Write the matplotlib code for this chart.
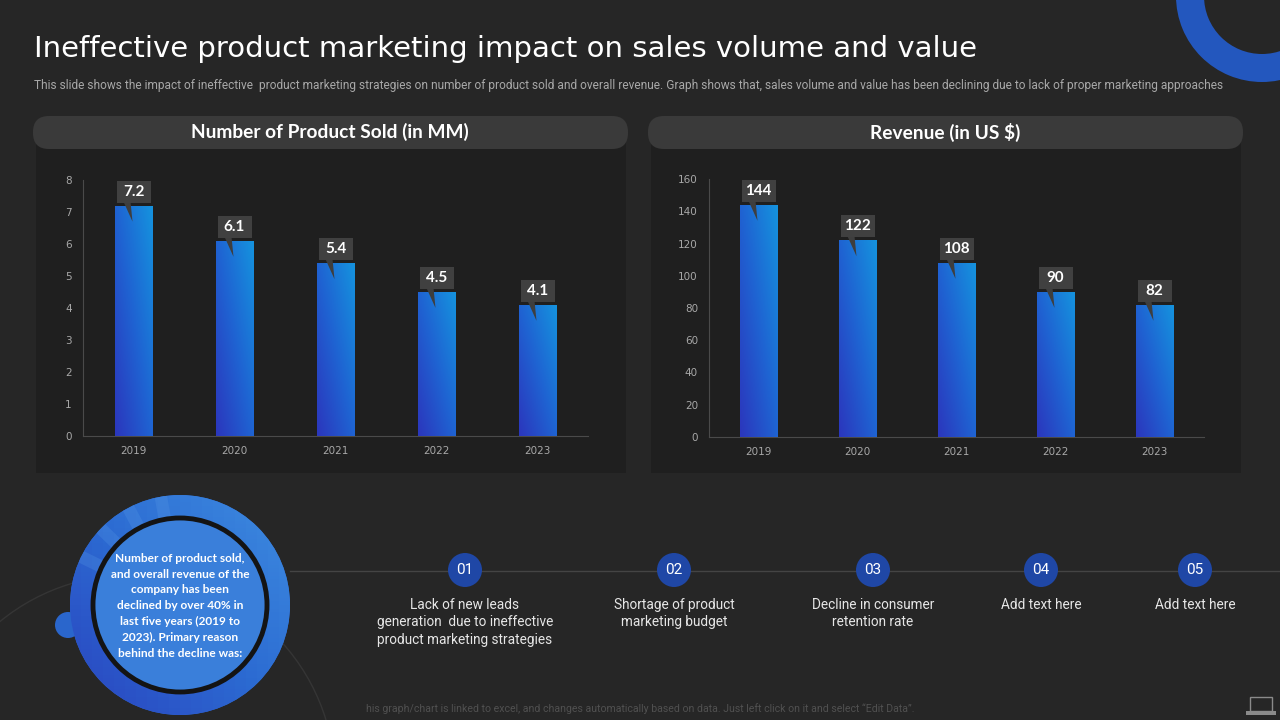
import numpy as np
import matplotlib
matplotlib.use("Agg")
import matplotlib.pyplot as plt
import matplotlib.transforms as mtransforms
from matplotlib.patches import FancyBboxPatch, Rectangle, Circle, Polygon, Wedge
from matplotlib.colors import LinearSegmentedColormap

# 数据
years = ['2019', '2020', '2021', '2022', '2023']
units_sold = [7.2, 6.1, 5.4, 4.5, 4.1]
revenue = [144, 122, 108, 90, 82]
units_ticks = [0, 1, 2, 3, 4, 5, 6, 7, 8]
revenue_ticks = [0, 20, 40, 60, 80, 100, 120, 140, 160]
units_labels = ['7.2', '6.1', '5.4', '4.5', '4.1']
revenue_labels = ['144', '122', '108', '90', '82']

title = 'Ineffective product marketing impact on sales volume and value'
subtitle = ('This slide shows the impact of ineffective  product marketing strategies on number of product sold '
            'and overall revenue. Graph shows that, sales volume and value has been declining due to lack of '
            'proper marketing approaches')
chart_titles = ['Number of Product Sold (in MM)', 'Revenue (in US $)']
circle_text = ('Number of product sold,\nand overall revenue of the\ncompany has been\n'
               'declined by over 40% in\nlast five years (2019 to\n2023). Primary reason\n'
               'behind the decline was:')
step_nums = ['01', '02', '03', '04', '05']
step_texts = ['Lack of new leads\ngeneration  due to ineffective\nproduct marketing strategies',
              'Shortage of product\nmarketing budget',
              'Decline in consumer\nretention rate',
              'Add text here',
              'Add text here']
footer = ('his graph/chart is linked to excel, and changes automatically based on data. '
          'Just left click on it and select \u201cEdit Data\u201d.')

BG = '#262626'
PANEL = '#1f1f1f'
PILL = '#3a3a3a'
NARROW = ['Roboto', 'DejaVu Sans']

bar_cmap = LinearSegmentedColormap.from_list('bars', ['#2b37bd', '#1f63d2', '#1592de'])
grad = np.add.outer(np.linspace(0, 1, 60), np.linspace(0, 1, 20)) / 2

fig = plt.figure(figsize=(12.8, 7.2), dpi=100)
fig.patch.set_facecolor(BG)

# 背景层，按像素坐标绘制
bg = fig.add_axes([0, 0, 1, 1])
bg.set_xlim(0, 1280)
bg.set_ylim(720, 0)
bg.axis('off')

# 右上角圆环
bg.add_patch(Wedge((1262, -4), 86, 0, 360, width=28, facecolor='#2357be', edgecolor='none'))

bg.text(34, 49, title, fontsize=21, color='white', va='center', ha='left', family='DejaVu Sans')
bg.text(34, 86, subtitle, fontsize=8.6, color='#a8a8a8', va='center', ha='left', family=NARROW)

# 图表面板
for x0, ctitle in zip([33, 648], chart_titles):
    bg.add_patch(Rectangle((x0 + 3, 140), 590, 333, facecolor=PANEL, edgecolor='none'))
    bg.add_patch(FancyBboxPatch((x0, 116), 595, 33, boxstyle='round,pad=0,rounding_size=16',
                                facecolor=PILL, edgecolor='none'))
    bg.text(x0 + 297, 132, ctitle, fontsize=13.8, color='white', fontweight='bold',
            ha='center', va='center', family='Lato')


def draw_chart(rect, values, labels, ticks):
    ax = fig.add_axes(rect)
    ax.patch.set_alpha(0)
    x = np.arange(len(values))
    bars = ax.bar(x, values, width=0.375, color='#1f63d2', zorder=2)
    for p in bars:
        im = ax.imshow(grad, extent=(p.get_x(), p.get_x() + p.get_width(), 0, p.get_height()),
                       origin='lower', cmap=bar_cmap, aspect='auto', zorder=3)
        im.set_clip_path(p)
    ax.set_xlim(-0.5, len(values) - 0.5)
    ax.set_ylim(ticks[0], ticks[-1])
    ax.set_xticks(x)
    ax.set_xticklabels(years)
    ax.set_yticks(ticks)
    ax.tick_params(axis='both', length=0, colors='#a8a8a8', labelsize=7.5)
    ax.tick_params(axis='y', pad=8)
    ax.tick_params(axis='x', pad=7)
    for s in ['top', 'right']:
        ax.spines[s].set_visible(False)
    for s in ['left', 'bottom']:
        ax.spines[s].set_color('#4a4a4a')
        ax.spines[s].set_linewidth(0.8)
    # 数据标签
    for xi, v, lab in zip(x, values, labels):
        tr = fig.dpi_scale_trans + mtransforms.ScaledTranslation(xi, v, ax.transData)
        bw = 0.34
        ax.add_patch(Polygon([(-0.10, 0.04), (-0.03, 0.04), (-0.01, -0.16)], closed=True,
                             facecolor='#3e3e3e', edgecolor='none', transform=tr, clip_on=False, zorder=5))
        ax.add_patch(Rectangle((-bw / 2, 0.03), bw, 0.22, facecolor='#404040', edgecolor='none',
                               transform=tr, clip_on=False, zorder=5))
        ax.text(0, 0.14, lab, transform=tr, fontsize=11, color='white', fontweight='bold',
                ha='center', va='center', family='Lato', zorder=6)
    return ax


draw_chart([83 / 1280, (720 - 436) / 720, 505 / 1280, 256 / 720], units_sold, units_labels, units_ticks)
draw_chart([709 / 1280, (720 - 437) / 720, 495 / 1280, 258 / 720], revenue, revenue_labels, revenue_ticks)

# 下方时间线
bg.plot([290, 1280], [571, 571], color='#444444', lw=1, zorder=1)
bg.add_patch(Circle((130, 780), 205, facecolor='none', edgecolor='#353535', lw=1, zorder=1))
step_x = [465, 674, 873, 1041, 1195]
for sx, num, txt in zip(step_x, step_nums, step_texts):
    bg.add_patch(Circle((sx, 570), 17, facecolor='#1f47a6', edgecolor='none', zorder=2))
    bg.text(sx, 570, num, fontsize=11, color='white', ha='center', va='center', family=NARROW, zorder=3)
    bg.text(sx, 598, txt, fontsize=9.8, color='#e6e6e6', ha='center', va='top',
            linespacing=1.3, family=NARROW)

# 左下圆形
bg.add_patch(Circle((68, 625), 13, facecolor='#2a66cc', edgecolor='none', zorder=2))
outer = Circle((180, 605), 110, facecolor='#2c6bd2', edgecolor='none', zorder=3)
bg.add_patch(outer)
ring_cmap = LinearSegmentedColormap.from_list('ring', ['#2a45c0', '#2c6bd2', '#3d8be0'])
im = bg.imshow(grad, extent=(70, 290, 715, 495), origin='lower', cmap=ring_cmap,
               aspect='auto', zorder=3)
im.set_clip_path(outer)
for ang in [100, 118, 136, 154]:
    t = np.deg2rad(ang)
    bg.plot([180, 180 + 120 * np.cos(t)], [605, 605 - 120 * np.sin(t)], color='#5a9be6',
            lw=9, alpha=0.25, zorder=3, clip_path=outer, solid_capstyle='butt')
inner = Circle((180, 605), 87, facecolor='#3a7fda', edgecolor='#141414', lw=3.5, zorder=4)
bg.add_patch(inner)
bg.text(180, 606, circle_text, fontsize=8.6, color='white', fontweight='bold', ha='center',
        va='center', linespacing=1.55, family='Lato', zorder=5)

bg.text(640, 709, footer, fontsize=7.6, color='#505050', ha='center', va='center', family=NARROW)

# 右下角图标
bg.add_patch(Rectangle((1250, 697), 22, 14, facecolor='none', edgecolor='#8a8a8a', lw=1))
bg.add_patch(Rectangle((1246, 711), 30, 4, facecolor='#8a8a8a', edgecolor='none'))

fig.savefig('out.png', dpi=100, facecolor=BG)
